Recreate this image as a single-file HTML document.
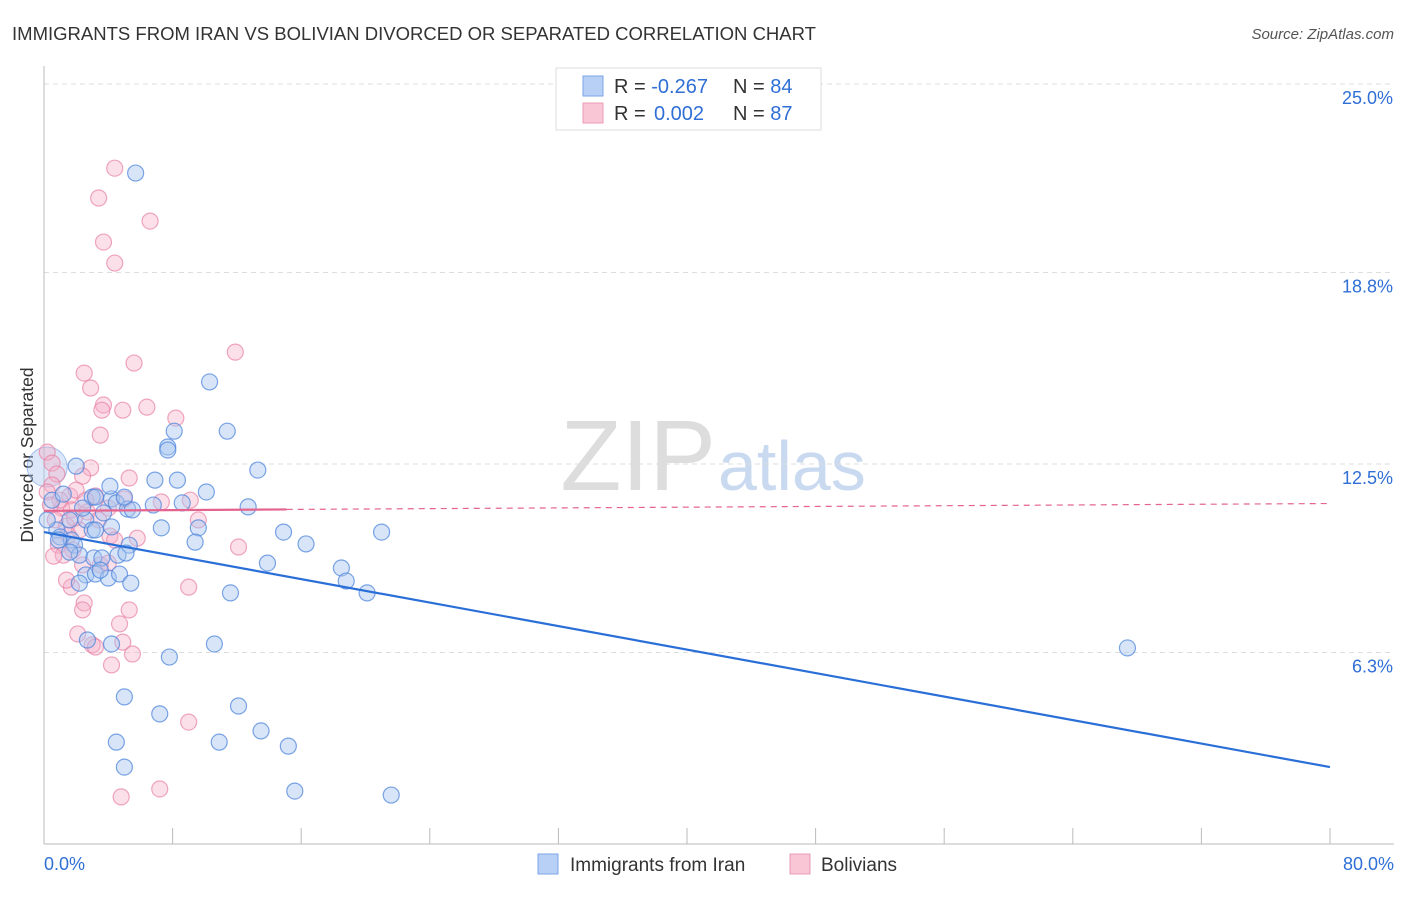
<!DOCTYPE html>
<html><head><meta charset="utf-8"><style>
body{margin:0;background:#fff;font-family:"Liberation Sans",sans-serif;}
svg text{font-family:"Liberation Sans",sans-serif;}
</style></head><body>
<svg id="chart" width="1406" height="892">
<text x="12" y="40" font-size="18.5" fill="#333" textLength="804" lengthAdjust="spacingAndGlyphs">IMMIGRANTS FROM IRAN VS BOLIVIAN DIVORCED OR SEPARATED CORRELATION CHART</text>
<text x="1394" y="39" font-size="15" fill="#555" font-style="italic" text-anchor="end">Source: ZipAtlas.com</text>
<text x="716" y="490" font-size="100" fill="#ddd" text-anchor="end" font-family="Liberation Serif">ZIP</text>
<text x="718" y="490" font-size="70" fill="#c9daf0">atlas</text>
<text transform="translate(33,455) rotate(-90)" font-size="17.5" fill="#333" text-anchor="middle">Divorced or Separated</text>
<g id="grid"></g><g id="pts"></g><g id="lines"></g>
<rect x="556" y="68" width="265" height="62" fill="#fff" stroke="#ddd"/>
<rect x="583" y="76" width="20" height="20" fill="#b8d0f5" stroke="#7ba6e6"/>
<rect x="583" y="103" width="20" height="20" fill="#f9c6d6" stroke="#ec9bb6"/>
<text x="614" y="93" font-size="20" fill="#333">R = <tspan fill="#2f6fd6">-0.267</tspan><tspan x="733">N = </tspan><tspan fill="#2f6fd6">84</tspan></text>
<text x="614" y="120" font-size="20" fill="#333">R = <tspan x="654" fill="#2f6fd6">0.002</tspan><tspan x="733">N = </tspan><tspan fill="#2f6fd6">87</tspan></text>
<rect x="538" y="854" width="20" height="20" fill="#b8d0f5" stroke="#7ba6e6"/>
<text x="570" y="871" font-size="19" fill="#333">Immigrants from Iran</text>
<rect x="790" y="854" width="20" height="20" fill="#f9c6d6" stroke="#ec9bb6"/>
<text x="821" y="871" font-size="19" fill="#333">Bolivians</text>
</svg>
<script>
const yTicks=[6.3,12.5,18.8,25.0];
const xTickLabels=["0.0%","80.0%"];
const blueX=[5.7,10.3,11.4,8.1,7.7,7.7,13.3,6.9,8.3,10.1,6.8,8.6,12.7,7.3,9.6,14.9,16.3,21.0,9.4,13.9,18.5,18.8,20.1,11.6,10.6,7.8,5.0,7.2,12.1,4.5,10.9,13.5,15.2,5.0,15.6,21.6,67.4,2.0,0.5,1.2,1.6,0.8,1.0,1.7,3.0,3.2,4.2,4.5,5.2,5.5,3.7,2.6,3.0,3.2,4.2,1.9,2.2,3.1,3.6,4.6,5.3,5.1,2.6,3.2,4.0,4.7,5.4,2.2,2.7,4.2,4.1,5.0,2.4,0.9,1.6,0.2,3.5];
const blueY=[22.07,15.2,13.58,13.58,13.06,12.96,12.3,11.97,11.97,11.58,11.15,11.22,11.09,10.4,10.4,10.26,9.87,10.26,9.93,9.24,9.08,8.65,8.26,8.26,6.58,6.15,4.84,4.28,4.54,3.35,3.35,3.72,3.22,2.53,1.74,1.61,6.45,12.43,11.31,11.51,10.66,10.33,10.1,10.0,11.41,11.41,11.35,11.22,11.02,10.99,10.89,10.66,10.33,10.33,10.43,9.83,9.5,9.41,9.41,9.5,9.83,9.57,8.85,8.88,8.75,8.88,8.58,8.58,6.71,6.58,11.77,11.41,11.05,10.0,9.6,10.66,9.01];
const pinkX=[4.4,3.4,6.6,3.7,4.4,11.9,5.6,2.5,2.9,3.7,4.9,3.6,6.4,8.2,3.5,0.2,0.5,2.9,0.8,2.4,5.3,0.5,0.2,1.6,2.0,3.2,5.0,7.3,9.1,1.1,1.7,2.7,4.0,9.6,0.7,1.4,2.2,4.1,5.8,12.1,0.9,1.8,1.2,2.4,3.5,4.0,0.6,9.0,1.7,2.5,2.4,5.3,4.7,2.1,3.0,3.2,4.9,5.5,4.2,9.0,7.2,4.8,1.4,1.0,0.4,2.6,3.4,1.5,4.4,1.9];
const pinkY=[22.23,21.25,20.49,19.8,19.11,16.18,15.82,15.49,15.0,14.44,14.27,14.27,14.37,14.01,13.45,12.89,12.53,12.37,12.17,12.1,12.04,11.81,11.58,11.45,11.64,11.45,11.35,11.25,11.31,11.05,10.99,10.92,11.05,10.66,10.66,10.46,10.33,10.13,10.06,9.77,9.83,9.67,9.5,9.18,9.18,9.24,9.47,8.45,8.45,7.93,7.7,7.7,7.24,6.91,6.55,6.48,6.64,6.25,5.89,4.01,1.81,1.55,8.68,11.31,11.15,11.31,10.66,10.16,10.0,10.72];
const blueTrend=[10.26,2.53];
const pinkTrend=[10.96,11.2];
const NS="http://www.w3.org/2000/svg";
const X=v=>44+v/80*1286, Y=v=>844-v/25*760;
function mk(tag,attrs,parent){const e=document.createElementNS(NS,tag);for(const k in attrs)e.setAttribute(k,attrs[k]);document.getElementById(parent).appendChild(e);return e;}
const g='grid';
yTicks.forEach(t=>{
 const l=mk('line',{x1:44,x2:1394,y1:Y(t),y2:Y(t),stroke:'#ddd','stroke-dasharray':'5,4'},g);
 
 
 const tx=mk('text',{x:1393,y:Y(t)+20,'font-size':18,fill:'#2f6fd6','text-anchor':'end'},g);tx.textContent=t.toFixed(1)+'%';
 
 
});
const ax=mk('line',{x1:44,x2:44,y1:66,y2:844,stroke:'#bbb'},g);


const bx=mk('line',{x1:44,x2:1394,y1:844,y2:844,stroke:'#bbb'},g);


for(let i=0;i<=10;i++){const v=i*8;const t=mk('line',{x1:X(v),x2:X(v),y1:828,y2:844,stroke:'#bbb'},g);
 
 }
const xl0=mk('text',{x:44,y:870,'font-size':18,fill:'#2f6fd6'},g);xl0.textContent=xTickLabels[0];


const xl1=mk('text',{x:1394,y:870,'font-size':18,fill:'#2f6fd6','text-anchor':'end'},g);xl1.textContent=xTickLabels[1];


const big=mk('circle',{cx:X(0.2),cy:Y(12.4),r:20,fill:'rgba(168,198,240,0.4)',stroke:'rgba(90,140,220,0.5)'},'pts');


pinkX.forEach((x,i)=>{const c=mk('circle',{cx:X(x),cy:Y(pinkY[i]),r:8,fill:'rgba(245,175,200,0.4)',stroke:'rgba(232,130,165,0.7)','stroke-width':1.2},'pts');
 
 });
blueX.forEach((x,i)=>{const c=mk('circle',{cx:X(x),cy:Y(blueY[i]),r:8,fill:'rgba(168,198,240,0.45)',stroke:'rgba(80,135,220,0.75)','stroke-width':1.2},'pts');
 
 });
const bl=mk('line',{x1:X(0),y1:Y(blueTrend[0]),x2:X(80),y2:Y(blueTrend[1]),stroke:'#2a6fd8','stroke-width':2.2},'lines');


const py=v=>pinkTrend[0]+(pinkTrend[1]-pinkTrend[0])*v/80;
const pl=mk('line',{x1:X(0),y1:Y(py(0)),x2:X(15.1),y2:Y(py(15.1)),stroke:'#e5648f','stroke-width':2.2},'lines');


const pd=mk('line',{x1:X(15.1),y1:Y(py(15.1)),x2:X(80),y2:Y(py(80)),stroke:'#e5648f','stroke-width':1.2,'stroke-dasharray':'6,5'},'lines');


</script>
</body></html>
